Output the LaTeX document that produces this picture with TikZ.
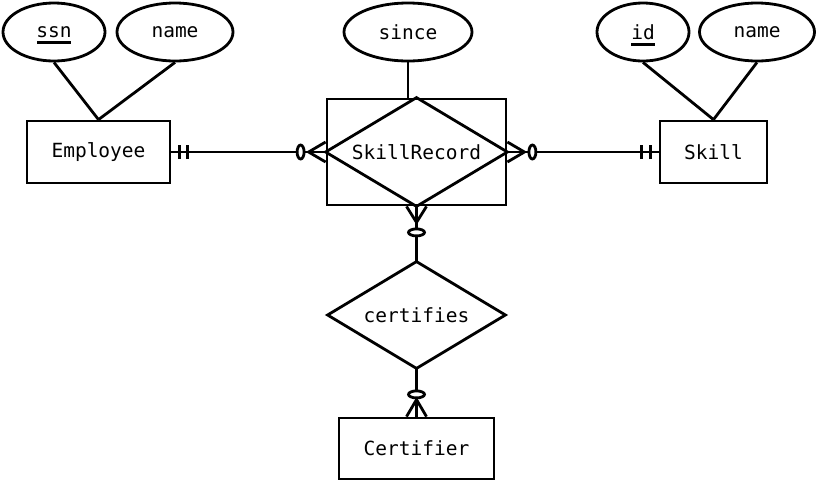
\documentclass[tikz,border=0pt]{standalone}
\usepackage{fontspec}
\setmonofont{DejaVu Sans Mono}
\usetikzlibrary{shapes.geometric}
\tikzset{
  attr/.style={ellipse, draw, inner sep=0pt, minimum height=58pt},
  entity/.style={rectangle, draw, inner sep=0pt, minimum height=62pt},
  relbox/.style={rectangle, inner sep=0pt},
  ring/.style={fill=white}
}
\begin{document}
\begin{tikzpicture}[x=1pt,y=-1pt,line width=2.8pt,every node/.style={font=\ttfamily\fontsize{19.5}{22}\selectfont}]
\useasboundingbox (0,0) rectangle (818,483);
% attributes
\node[attr, minimum width=102pt] (ssn) at (54,32) {ssn};
\node[attr, minimum width=116pt] (ename) at (175,32) {name};
\node[attr, minimum width=128pt] (since) at (408,32) {since};
\node[attr, minimum width=92pt] (id) at (643,32) {id};
\node[attr, minimum width=115pt] (sname) at (757,32) {name};
\draw[line width=3pt] ([xshift=-17pt,yshift=-5.5pt]ssn.base) -- ([xshift=17pt,yshift=-5.5pt]ssn.base);
\draw[line width=3pt] ([xshift=-12pt,yshift=-5.5pt]id.base) -- ([xshift=12pt,yshift=-5.5pt]id.base);
% entities
\node[entity, minimum width=143pt] (emp) at (98.5,152) {Employee};
\node[entity, minimum width=107pt] (skill) at (713.5,152) {Skill};
\node[entity, minimum width=155pt, minimum height=61pt] (certifier) at (416.5,448.5) {Certifier};
% associative entity
\node[relbox, draw, minimum width=179pt, minimum height=106pt] (sr) at (416.5,152) {SkillRecord};
\draw (sr.north) -- (sr.east) -- (sr.south) -- (sr.west) -- cycle;
\node[relbox, minimum width=175pt, minimum height=104pt] (cert) at (416.5,315) {certifies};
\draw (cert.north) -- (cert.east) -- (cert.south) -- (cert.west) -- cycle;
% attribute links
\draw (ssn.south) -- (emp.north);
\draw (ename.south) -- (emp.north);
\draw (since.south) -- (since.south |- sr.north);
\draw (id.south) -- (skill.north);
\draw (sname.south) -- (skill.north);
% Employee -- SkillRecord
\draw (emp.east) -- (sr.west);
\draw ([xshift=8pt,yshift=-7pt]emp.east) -- ([xshift=8pt,yshift=7pt]emp.east);
\draw ([xshift=16pt,yshift=-7pt]emp.east) -- ([xshift=16pt,yshift=7pt]emp.east);
\draw[ring] ([xshift=-25pt]sr.west) ellipse [x radius=3.5pt, y radius=7pt];
\draw ([yshift=10pt]sr.west) -- ([xshift=-17pt]sr.west) -- ([yshift=-10pt]sr.west);
% SkillRecord -- Skill
\draw (sr.east) -- (skill.west);
\draw ([yshift=10pt]sr.east) -- ([xshift=17pt]sr.east) -- ([yshift=-10pt]sr.east);
\draw[ring] ([xshift=25pt]sr.east) ellipse [x radius=3.5pt, y radius=7pt];
\draw ([xshift=-8pt,yshift=-7pt]skill.west) -- ([xshift=-8pt,yshift=7pt]skill.west);
\draw ([xshift=-17pt,yshift=-7pt]skill.west) -- ([xshift=-17pt,yshift=7pt]skill.west);
% SkillRecord -- certifies
\draw (sr.south) -- (cert.north);
\draw ([xshift=-10pt]sr.south) -- ([yshift=-16pt]sr.south) -- ([xshift=10pt]sr.south);
\draw[ring] ([yshift=-26pt]sr.south) ellipse [x radius=8pt, y radius=3.5pt];
% certifies -- Certifier
\draw (cert.south) -- (certifier.north);
\draw[ring] ([yshift=-26pt]cert.south) ellipse [x radius=8pt, y radius=3.5pt];
\draw ([xshift=-10pt]certifier.north) -- ([yshift=17pt]certifier.north) -- ([xshift=10pt]certifier.north);
\end{tikzpicture}
\end{document}
